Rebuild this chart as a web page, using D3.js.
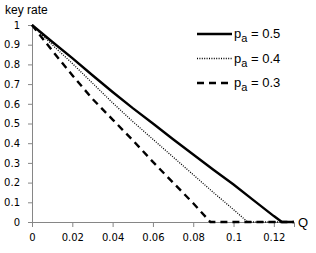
<!DOCTYPE html>
<html>
<head>
<meta charset="utf-8">
<script src="https://cdn.jsdelivr.net/npm/d3@7"></script>
<style>
  body { margin: 0; background: #fff; }
  text { font-family: "DejaVu Sans", Verdana, sans-serif; }
</style>
</head>
<body>
<svg id="chart" width="316" height="253"></svg>
<script>
// data
var q50 = [0, 0.01, 0.02, 0.03, 0.04, 0.05, 0.06, 0.07, 0.08, 0.09, 0.10, 0.11, 0.12, 0.124, 0.13];
var k50 = [1, 0.915, 0.832, 0.745, 0.66, 0.578, 0.50, 0.42, 0.343, 0.265, 0.19, 0.11, 0.03, 0, 0];
var q40 = [0, 0.01, 0.02, 0.03, 0.04, 0.05, 0.06, 0.07, 0.08, 0.09, 0.10, 0.107, 0.13];
var k40 = [1, 0.9, 0.805, 0.705, 0.605, 0.51, 0.42, 0.33, 0.24, 0.15, 0.063, 0, 0];
var q30 = [0, 0.01, 0.02, 0.03, 0.04, 0.05, 0.06, 0.07, 0.08, 0.0885, 0.13];
var k30 = [1, 0.87, 0.745, 0.625, 0.52, 0.415, 0.305, 0.2, 0.095, 0, 0];
var seriesNames = ["0.5", "0.4", "0.3"];
var xTicks = [0, 0.02, 0.04, 0.06, 0.08, 0.1, 0.12];
var yTicks = [0, 0.1, 0.2, 0.3, 0.4, 0.5, 0.6, 0.7, 0.8, 0.9, 1];

var svg = d3.select("#chart");
var axisColor = "#868686";

var x = d3.scaleLinear().domain([0, 0.13]).range([32, 294]);
var y = d3.scaleLinear().domain([0, 1]).range([222, 25]);

// axes
var xAxis = svg.append("g")
    .attr("transform", "translate(0,222)")
    .call(d3.axisBottom(x).tickValues(xTicks).tickSizeOuter(0).tickSize(5).tickPadding(7)
        .tickFormat(function(d) { return d3.format("")(+d.toFixed(2)); }));
var yAxis = svg.append("g")
    .attr("transform", "translate(32,0)")
    .call(d3.axisLeft(y).tickValues(yTicks).tickSizeOuter(0).tickSize(4).tickPadding(8)
        .tickFormat(function(d) { return d3.format("")(+d.toFixed(1)); }));

[xAxis, yAxis].forEach(function(a) {
  a.select(".domain").attr("stroke", axisColor);
  a.selectAll(".tick line").attr("stroke", axisColor);
  a.selectAll(".tick text").attr("fill", "#000").attr("font-size", "10px")
      .style("font-family", "DejaVu Sans, Verdana, sans-serif");
});

// series
var series = [
  {q: q50, k: k50, width: 2.4, dash: null},
  {q: q40, k: k40, width: 1.3, dash: "1,1.4"},
  {q: q30, k: k30, width: 2.4, dash: "7,5"}
];

var line = d3.line()
    .x(function(d) { return x(d[0]); })
    .y(function(d) { return y(d[1]); });

series.forEach(function(s) {
  svg.append("path")
    .datum(d3.zip(s.q, s.k))
    .attr("fill", "none")
    .attr("stroke", "#000")
    .attr("stroke-width", s.width)
    .attr("stroke-dasharray", s.dash)
    .attr("d", line);
});

// legend
var legend = svg.append("g").attr("transform", "translate(197,34)");
series.forEach(function(s, i) {
  var row = legend.append("g").attr("transform", "translate(0," + (i * 24.5) + ")");
  row.append("line")
    .attr("x1", 0).attr("x2", 35).attr("y1", 0).attr("y2", 0)
    .attr("stroke", "#000")
    .attr("stroke-width", s.width)
    .attr("stroke-dasharray", s.dash);
  var t = row.append("text").attr("x", 37).attr("y", 4)
    .attr("font-size", "13px")
    .style("font-family", "Liberation Sans, Arial, sans-serif");
  t.append("tspan").text("p");
  t.append("tspan").attr("dy", 4).attr("font-size", "11px").text("a");
  t.append("tspan").attr("dy", -4).text(" = " + seriesNames[i]);
});

// axis titles
svg.append("text")
  .attr("x", 5).attr("y", 14)
  .attr("font-size", "12px")
  .style("font-family", "Liberation Sans, Arial, sans-serif")
  .text("key rate");
svg.append("text")
  .attr("x", 298).attr("y", 227)
  .attr("font-size", "13px")
  .style("font-family", "Liberation Sans, Arial, sans-serif")
  .text("Q");
</script>
</body>
</html>
